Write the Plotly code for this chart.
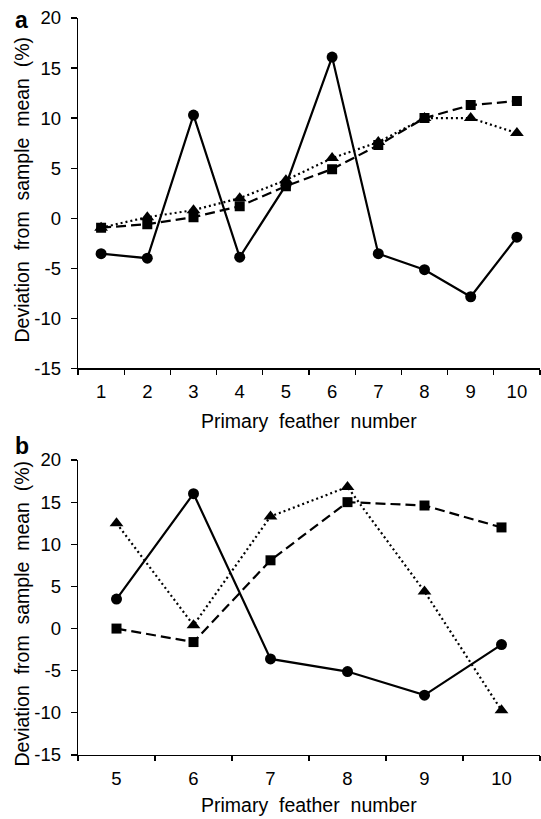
import plotly.graph_objects as go

# ---- Data ----
feathers_a = [1, 2, 3, 4, 5, 6, 7, 8, 9, 10]
circles_a = [-3.55, -4.0, 10.3, -3.9, 3.3, 16.1, -3.55, -5.15, -7.85, -1.9]
squares_a = [-0.95, -0.6, 0.1, 1.2, 3.2, 4.9, 7.3, 10.0, 11.3, 11.7]
triangles_a = [-0.95, 0.1, 0.8, 2.0, 3.8, 6.0, 7.6, 10.0, 10.0, 8.5]

feathers_b = [5, 6, 7, 8, 9, 10]
circles_b = [3.5, 16.0, -3.6, -5.1, -7.9, -1.9]
squares_b = [0.0, -1.6, 8.1, 15.0, 14.6, 12.0]
triangles_b = [12.5, 0.4, 13.3, 16.8, 4.4, -9.7]

y_ticks = [-15, -10, -5, 0, 5, 10, 15, 20]
x_title = "Primary feather number"
y_title = "Deviation from sample mean (%)"

FONT = "Liberation Sans, Arial, Helvetica, sans-serif"
BLACK = "#000000"

W, H = 541, 819
ML, MR, MT, MB = 78, 1, 18, 64
PW = W - ML - MR
PH = H - MT - MB


def py(pix):
    return (H - MB - pix) / PH


def px(pix):
    return (pix - ML) / PW


def wide(s):
    # the reference uses generous word spacing
    return s.replace(" ", "\u00a0\u00a0")


fig = go.Figure()

series = [
    ("circle", "solid", 11),
    ("square", "10px,5px", 10),
    ("triangle-up", "2px,3px", 12),
]


def add_panel(xvals, ys_list, xaxis, yaxis):
    cats = [str(v) for v in xvals]
    for (sym, dash, msize), ys in zip(series, ys_list):
        fig.add_trace(go.Scatter(
            x=cats, y=ys, xaxis=xaxis, yaxis=yaxis, mode="lines+markers",
            line=dict(color=BLACK, width=2.2, dash=dash),
            marker=dict(symbol=sym, size=msize, color=BLACK),
            showlegend=False, hoverinfo="skip",
        ))


add_panel(feathers_a, [circles_a, squares_a, triangles_a], "x", "y")
add_panel(feathers_b, [circles_b, squares_b, triangles_b], "x2", "y2")

top_dom = [py(368.3), 1.0]
bot_dom = [0.0, py(460)]

TICK_FONT = dict(family=FONT, size=18.5, color=BLACK)

common_x = dict(
    type="category", tickson="boundaries", ticks="outside", ticklen=5,
    tickwidth=1.2, tickcolor=BLACK, showline=True, linecolor=BLACK,
    linewidth=1.3, showgrid=False, zeroline=False,
    tickfont=TICK_FONT, ticklabelstandoff=6, fixedrange=True,
)
common_y = dict(
    range=[-15, 20], tickvals=y_ticks, ticktext=[str(v) for v in y_ticks],
    ticks="outside", ticklen=6,
    tickwidth=1.2, tickcolor=BLACK, showline=True, linecolor=BLACK,
    linewidth=1.3, showgrid=False, zeroline=False,
    tickfont=TICK_FONT, ticklabelstandoff=6, fixedrange=True,
)

fig.update_layout(
    width=W, height=H,
    margin=dict(l=ML, r=MR, t=MT, b=MB, autoexpand=False),
    paper_bgcolor="white", plot_bgcolor="white",
    xaxis=dict(common_x, domain=[0, 1], anchor="y",
               range=[-0.5, len(feathers_a) - 0.5]),
    yaxis=dict(common_y, domain=top_dom, anchor="x"),
    xaxis2=dict(common_x, domain=[0, 1], anchor="y2",
                range=[-0.5, len(feathers_b) - 0.5]),
    yaxis2=dict(common_y, domain=bot_dom, anchor="x2"),
    showlegend=False,
    hovermode=False,
)

ann_font = dict(family=FONT, size=19.5, color=BLACK)
annotations = [
    dict(text=wide(x_title), x=0.5, y=py(421), xref="paper", yref="paper",
         showarrow=False, font=ann_font, xanchor="center", yanchor="middle"),
    dict(text=wide(x_title), x=0.5, y=py(805), xref="paper", yref="paper",
         showarrow=False, font=ann_font, xanchor="center", yanchor="middle"),
    dict(text=wide(y_title), x=px(21.5), y=py(190), xref="paper", yref="paper",
         showarrow=False, font=ann_font, textangle=-90,
         xanchor="center", yanchor="middle"),
    dict(text=wide(y_title), x=px(21.5), y=py(614), xref="paper", yref="paper",
         showarrow=False, font=ann_font, textangle=-90,
         xanchor="center", yanchor="middle"),
    dict(text="<b>a</b>", x=px(21.5), y=py(20), xref="paper", yref="paper",
         showarrow=False, font=dict(family=FONT, size=23, color=BLACK),
         xanchor="center", yanchor="middle"),
    dict(text="<b>b</b>", x=px(21.5), y=py(446), xref="paper", yref="paper",
         showarrow=False, font=dict(family=FONT, size=23, color=BLACK),
         xanchor="center", yanchor="middle"),
]
fig.update_layout(annotations=annotations)

fig.write_html(
    "out.html",
    config={"displayModeBar": False, "staticPlot": True},
    post_script="document.body.style.margin='0';"
                "document.body.style.overflow='hidden';",
)
